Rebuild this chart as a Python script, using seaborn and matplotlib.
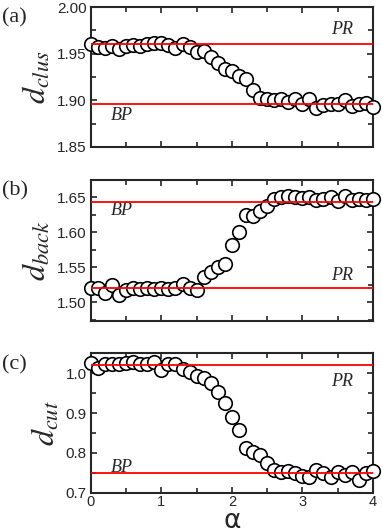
import numpy as np
import pandas as pd
import matplotlib
matplotlib.use("Agg")
import matplotlib.pyplot as plt
import seaborn as sns
from matplotlib.ticker import MultipleLocator

# data
alpha = [round(0.1 * i, 1) for i in range(41)]

d_clus = [1.960, 1.957, 1.956, 1.958, 1.955, 1.958, 1.959, 1.958, 1.960, 1.962,
          1.961, 1.959, 1.956, 1.960, 1.957, 1.952, 1.953, 1.947, 1.940, 1.934,
          1.931, 1.926, 1.923, 1.911, 1.902, 1.901, 1.900, 1.901, 1.898, 1.901,
          1.896, 1.901, 1.892, 1.895, 1.896, 1.896, 1.900, 1.894, 1.896, 1.897,
          1.893]
d_back = [1.521, 1.521, 1.513, 1.525, 1.510, 1.517, 1.520, 1.519, 1.520, 1.519,
          1.521, 1.519, 1.521, 1.526, 1.521, 1.517, 1.536, 1.543, 1.550, 1.555,
          1.582, 1.601, 1.625, 1.623, 1.630, 1.638, 1.648, 1.651, 1.652, 1.651,
          1.649, 1.650, 1.646, 1.648, 1.650, 1.645, 1.652, 1.647, 1.648, 1.647,
          1.648]
d_cut = [1.025, 1.013, 1.023, 1.023, 1.023, 1.025, 1.029, 1.023, 1.023, 1.027,
         1.008, 1.023, 1.023, 1.010, 1.003, 0.994, 0.987, 0.975, 0.954, 0.925,
         0.891, 0.858, 0.811, 0.803, 0.795, 0.775, 0.757, 0.753, 0.754, 0.749,
         0.742, 0.740, 0.757, 0.750, 0.740, 0.753, 0.744, 0.753, 0.732, 0.750,
         0.754]

pr_lines = [1.960, 1.520, 1.020]
bp_lines = [1.896, 1.644, 0.750]
ylabels = ['clus', 'back', 'cut']
panel_tags = ['(a)', '(b)', '(c)']
ylims = [(1.85, 2.00), (1.473, 1.675), (0.70, 1.05)]
ymajor = [0.05, 0.05, 0.1]
pr_text_y = [1.9756, 1.538, 0.979]
bp_text_y = [1.884, 1.632, 0.762]

df = pd.DataFrame({'alpha': alpha, 'clus': d_clus, 'back': d_back, 'cut': d_cut})

sns.set_style('ticks')
plt.rcParams['font.family'] = ['Liberation Sans', 'DejaVu Sans']
plt.rcParams['mathtext.fontset'] = 'stix'

fig = plt.figure(figsize=(3.82, 5.32), dpi=100)
boxes = [[0.238, 0.7237, 0.738, 0.263],
         [0.238, 0.3966, 0.738, 0.265],
         [0.238, 0.0739, 0.738, 0.262]]

for i in range(3):
    ax = fig.add_axes(boxes[i])
    sns.scatterplot(data=df, x='alpha', y=ylabels[i], ax=ax, marker='o', s=95,
                    facecolor='white', edgecolor='black', linewidth=1.2,
                    zorder=3, clip_on=False)
    ax.axhline(pr_lines[i], color='red', lw=1.3, zorder=4)
    ax.axhline(bp_lines[i], color='red', lw=1.3, zorder=4)

    ax.set_xlim(0, 4)
    ax.set_ylim(*ylims[i])
    ax.xaxis.set_major_locator(MultipleLocator(1))
    ax.xaxis.set_minor_locator(MultipleLocator(0.5))
    ax.yaxis.set_major_locator(MultipleLocator(ymajor[i]))
    ax.yaxis.set_minor_locator(MultipleLocator(ymajor[i] / 2))
    ax.tick_params(which='both', direction='in', top=True, right=True,
                   width=1.2, labelsize=11, pad=3)
    ax.tick_params(axis='x', which='major', pad=1.5, labelsize=10.5)
    ax.tick_params(which='major', length=4.5)
    ax.tick_params(which='minor', length=3.5)
    for sp in ax.spines.values():
        sp.set_linewidth(1.5)

    if ymajor[i] == 0.1:
        ax.yaxis.set_major_formatter(matplotlib.ticker.FormatStrFormatter('%.1f'))
    else:
        ax.yaxis.set_major_formatter(matplotlib.ticker.FormatStrFormatter('%.2f'))

    ax.set_ylabel(r'$d_{%s}$' % ylabels[i], fontsize=23, labelpad=3)
    if i < 2:
        ax.set_xlabel('')
        ax.set_xticklabels([])
    else:
        ax.set_xlabel(r'$\mathrm{\alpha}$', fontsize=19, va='center',
                      math_fontfamily='dejavusans')
        ax.xaxis.set_label_coords(0.5, -0.2)

    ax.text(3.56, pr_text_y[i], 'PR', fontsize=13, fontstyle='italic',
            family='Liberation Serif', ha='center', va='center')
    ax.text(0.44, bp_text_y[i], 'BP', fontsize=13, fontstyle='italic',
            family='Liberation Serif', ha='center', va='center')
    fig.text(0.005, boxes[i][1] + boxes[i][3] - 0.003, panel_tags[i], fontsize=16,
             family='Liberation Serif', ha='left', va='top')

fig.savefig('out.png', dpi=100)
